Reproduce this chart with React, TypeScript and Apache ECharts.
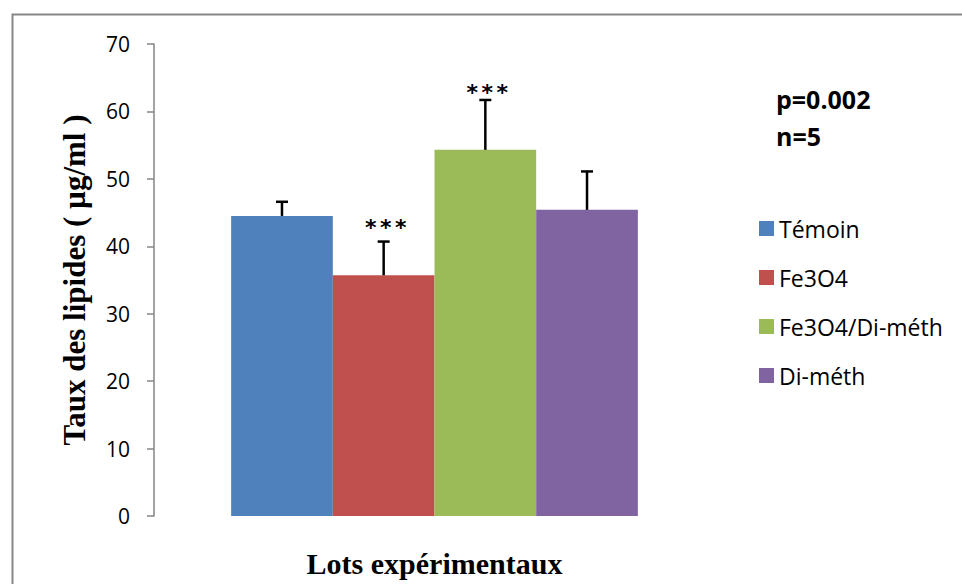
import React, { useEffect, useRef } from "react";
import * as echarts from "echarts";

const categories = ["Lots"];
const seriesNames = ["Témoin", "Fe3O4", "Fe3O4/Di-méth", "Di-méth"];
const means = [44.5, 35.7, 54.3, 45.4];
const upperErrors = [2.1, 5.0, 7.4, 5.7];
const significance = ["", "***", "***", ""];
const yTicks = [0, 10, 20, 30, 40, 50, 60, 70];
const statsText = ["p=0.002", "n=5"];

const colors = ["#4F81BD", "#C0504D", "#9BBB59", "#8064A2"];
const CAT_GAP = 0.275;
const STAR_OFFSET = [14, 14, 7, 14];
const STAR_SPACING = 15;

export default function App() {
  const ref = useRef<HTMLDivElement>(null);
  useEffect(() => {
    if (!ref.current) return;
    const chart = echarts.init(ref.current, null, { renderer: "svg" });
    const barSeries = seriesNames.map((name, i) => ({
      name,
      type: "bar",
      data: [means[i]],
      itemStyle: { color: colors[i] },
      barGap: "0%",
      barCategoryGap: CAT_GAP * 100 + "%",
      z: 2,
    }));
    const errSeries = {
      type: "custom",
      z: 5,
      silent: true,
      data: means.map((m, i) => [0, m, upperErrors[i], i]),
      encode: { x: 0, y: 1 },
      renderItem: (params: any, api: any) => {
        const idx = api.value(3);
        const mean = api.value(1);
        const err = api.value(2);
        const catW = api.size([1, 0])[0];
        const barW = (catW * (1 - CAT_GAP)) / seriesNames.length;
        const base = api.coord([0, 0]);
        const cx = base[0] + (idx - (seriesNames.length - 1) / 2) * barW;
        const yTop = api.coord([0, mean + err])[1];
        const yBar = api.coord([0, mean])[1];
        const children: any[] = [
          {
            type: "line",
            shape: { x1: cx, y1: yBar, x2: cx, y2: yTop },
            style: { stroke: "#000", lineWidth: 2.5 },
          },
          {
            type: "line",
            shape: { x1: cx - 6, y1: yTop, x2: cx + 6, y2: yTop },
            style: { stroke: "#000", lineWidth: 2.5 },
          },
        ];
        const s = significance[idx];
        if (s) {
          const chars = s.split("");
          chars.forEach((c, k) => {
            children.push({
              type: "text",
              x: cx + 2 + (k - (chars.length - 1) / 2) * STAR_SPACING,
              y: yTop - STAR_OFFSET[idx],
              style: {
                text: c,
                fill: "#000",
                font: "bold 22px 'DejaVu Sans'",
                align: "center",
                verticalAlign: "middle",
              },
            });
          });
        }
        return { type: "group", children };
      },
    };
    chart.setOption({
      animation: false,
      backgroundColor: "#fff",
      grid: {
        left: 154,
        right: 247,
        top: 44,
        bottom: 68,
        containLabel: false,
        outerBoundsMode: "none",
      },
      legend: {
        data: seriesNames,
        orient: "vertical",
        left: 754,
        top: 212,
        icon: "rect",
        itemWidth: 15,
        itemHeight: 15,
        itemGap: 26,
        textStyle: { fontFamily: "Open Sans", fontSize: 23, color: "#000" },
        selectedMode: false,
      },
      xAxis: {
        type: "category",
        data: categories,
        axisLine: { show: false },
        axisTick: { show: false },
        axisLabel: { show: false },
        name: "Lots expérimentaux",
        nameLocation: "middle",
        nameGap: 32,
        nameTextStyle: {
          fontFamily: "Liberation Serif",
          fontWeight: "bold",
          fontSize: 30,
          color: "#000",
        },
      },
      yAxis: {
        type: "value",
        min: yTicks[0],
        max: yTicks[yTicks.length - 1],
        interval: yTicks[1] - yTicks[0],
        splitLine: { show: false },
        axisLine: { show: true, lineStyle: { color: "#868686", width: 1.5 } },
        axisTick: { show: true, inside: false, length: 7, lineStyle: { color: "#868686", width: 1.5 } },
        axisLabel: { fontFamily: "Open Sans", fontSize: 21, color: "#000", margin: 24 },
        name: "Taux des lipides ( µg/ml )",
        nameLocation: "middle",
        nameGap: 64,
        nameTextStyle: {
          fontFamily: "Liberation Serif",
          fontWeight: "bold",
          fontSize: 31,
          color: "#000",
        },
      },
      graphic: [
        {
          type: "rect",
          shape: { x: 12.5, y: 14.5, width: 1000, height: 1000 },
          style: { fill: "none", stroke: "#868686", lineWidth: 2 },
          silent: true,
        },
        {
          type: "text",
          left: 776,
          top: 80,
          style: {
            text: statsText.join("\n"),
            font: "bold 25px 'Open Sans'",
            lineHeight: 37,
            fill: "#000",
          },
        },
      ],
      series: [...barSeries, errSeries],
    });
    return () => chart.dispose();
  }, []);
  return (
    <div
      ref={ref}
      style={{ position: "fixed", left: 0, top: 0, width: 962, height: 584 }}
    />
  );
}
